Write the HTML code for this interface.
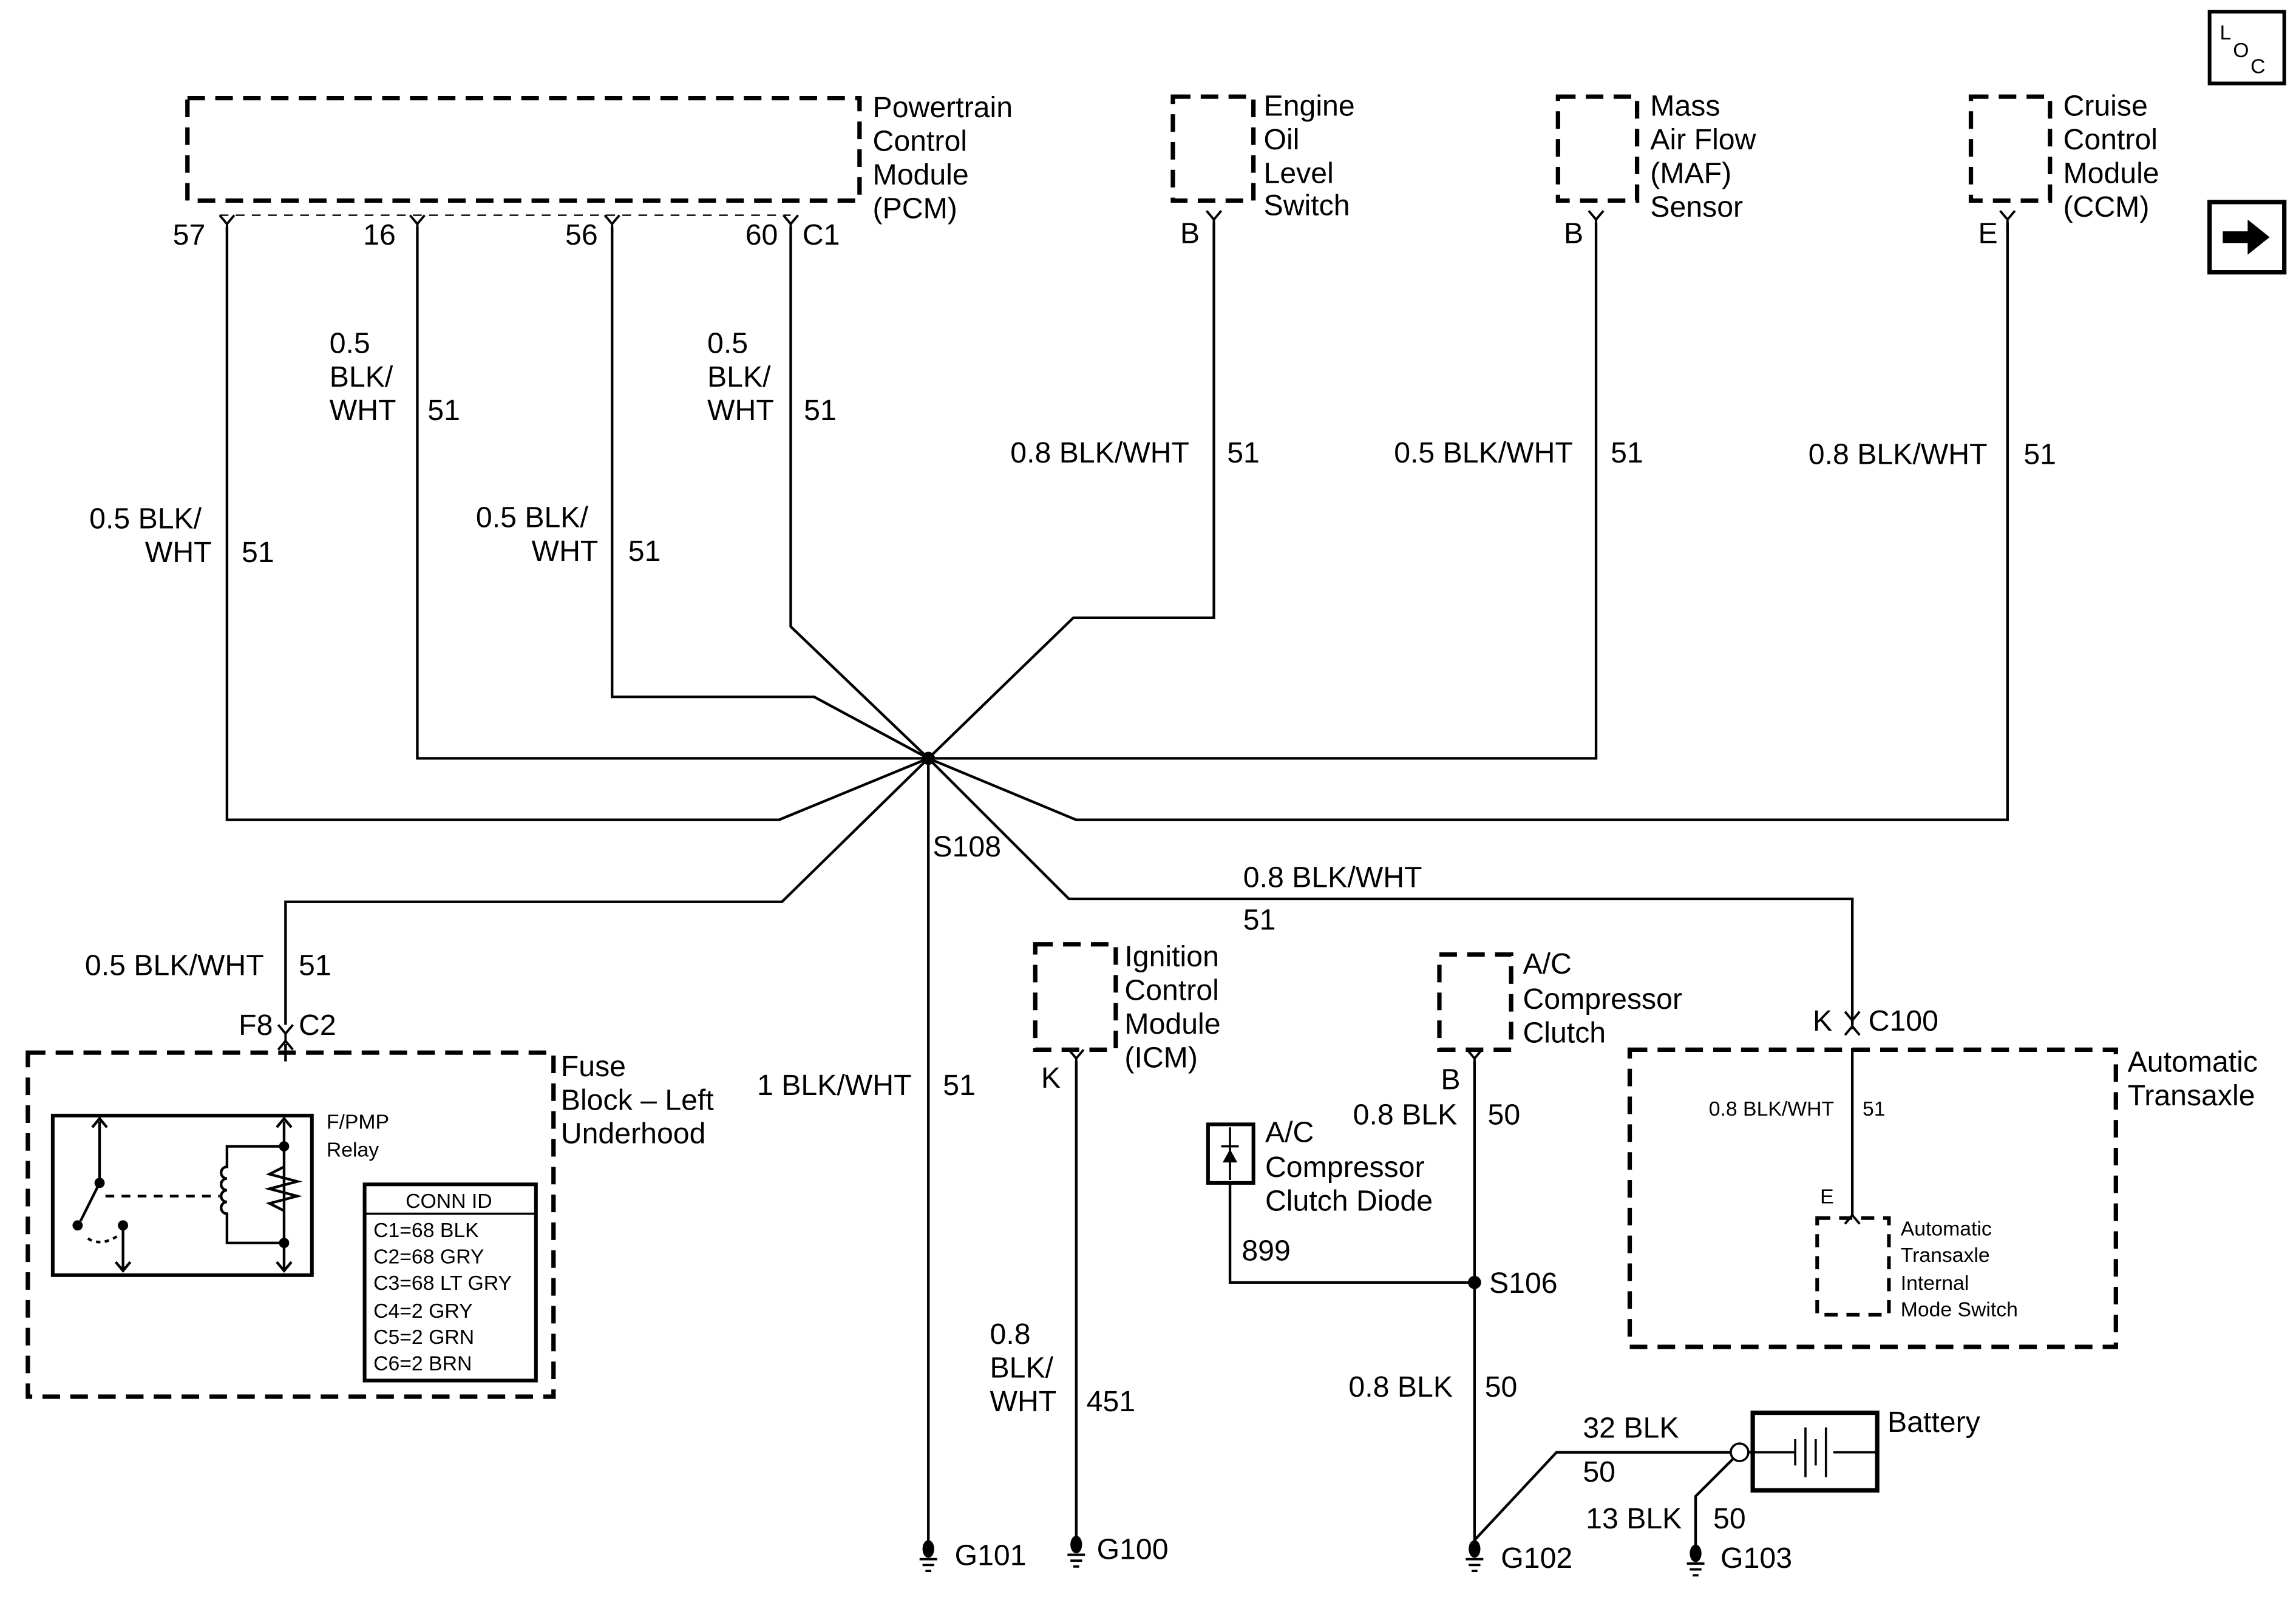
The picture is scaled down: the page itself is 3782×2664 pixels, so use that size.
<!DOCTYPE html>
<html><head><style>
html,body{margin:0;padding:0;background:#fff;}
svg{display:block;}
text{font-family:"Liberation Sans",sans-serif;font-size:20px;fill:#000;}
.s text{font-size:14px;}
</style></head><body>
<svg width="3782" height="2664" viewBox="0 0 1568 1104.5" xmlns="http://www.w3.org/2000/svg">
<defs>
<g id="yc"><path d="M-5,-4 L0,2 L5,-4 M0,2 L0,8" fill="none" stroke="#000" stroke-width="1.6"/></g>
<g id="gnd"><ellipse cx="0" cy="0" rx="4" ry="6" fill="#000"/><path d="M-6,7 H6 M-4,11 H4 M-2,15 H2" stroke="#000" stroke-width="1.6"/></g>
</defs>
<g fill="none" stroke="#000" stroke-width="3" stroke-dasharray="12,7">
<rect x="128" y="67" width="459" height="70"/>
<rect x="801" y="66" width="55" height="71"/>
<rect x="1064" y="66" width="54" height="71"/>
<rect x="1346" y="66" width="54" height="71"/>
<rect x="19" y="719" width="359" height="235"/>
<rect x="707" y="645" width="55" height="72"/>
<rect x="983" y="652" width="49" height="65"/>
<rect x="1113" y="717" width="332" height="203"/>
<rect x="1241" y="832" width="49" height="66" stroke-width="2.5" stroke-dasharray="9,6"/>
</g>
<path d="M150,147 H540" stroke="#000" stroke-width="1" stroke-dasharray="6,5"/>
<g fill="none" stroke="#000" stroke-width="1.8">
<path d="M155,155 V560 H532 L634,518"/>
<path d="M285,155 V518 H634"/>
<path d="M418,155 V476 H556 L634,518"/>
<path d="M540,155 V428 L634,518"/>
<path d="M829,152 V422 H733 L634,518"/>
<path d="M1090,152 V518 H634"/>
<path d="M1371,152 V560 H735 L634,518"/>
<path d="M634,518 L534,616 H195 V700"/>
<path d="M634,518 L730,614 H1265 V700"/>
<path d="M634,518 V1055"/>
<path d="M735,725 V1052"/>
<path d="M1007,725 V1052"/>
<path d="M840,808 V876 H1007"/>
<path d="M1265,716 V830"/>
<path d="M1007,1052 L1063,992 H1183"/>
<path d="M1185,995 L1158,1022 V1058"/>
<path d="M195,713 V725"/>
</g>
<circle cx="634" cy="518" r="4.5"/>
<circle cx="1007" cy="876" r="4.5"/>
<use href="#yc" x="155" y="151"/><use href="#yc" x="285" y="151"/><use href="#yc" x="418" y="151"/><use href="#yc" x="540" y="151"/>
<use href="#yc" x="829" y="148"/><use href="#yc" x="1090" y="148"/><use href="#yc" x="1371" y="148"/>
<use href="#yc" x="735" y="721"/><use href="#yc" x="1007" y="721"/><use href="#yc" x="195" y="704"/>
<path d="M190,717 L195,711 L200,717 M1260,707 L1265,701 L1270,707 M1260,836 L1265,830 L1270,836" fill="none" stroke="#000" stroke-width="1.6"/>
<use href="#yc" x="1265" y="695"/>
<use href="#gnd" x="634" y="1058"/><use href="#gnd" x="735" y="1055"/><use href="#gnd" x="1007" y="1058"/><use href="#gnd" x="1158" y="1061"/>
<rect x="36" y="762" width="177" height="109" fill="none" stroke="#000" stroke-width="2.5"/>
<g fill="none" stroke="#000" stroke-width="1.8">
<path d="M68,766 V808 L55,834 M63,770 L68,764 L73,770"/>
<path d="M84,837 V868 M79,862 L84,868 L89,862"/>
<path d="M60,846 Q70,852 82,843" stroke-dasharray="3,3"/>
<path d="M72,817 H150" stroke-dasharray="6,5"/>
<path d="M194,766 V868 M189,770 L194,764 L199,770 M189,862 L194,868 L199,862"/>
<path d="M194,783 H155 V797 A4,4 0 0 0 155,805 A4,4 0 0 0 155,813 A4,4 0 0 0 155,821 A4,4 0 0 0 155,829 V849 H194"/>
<path d="M194,797 L184,802 L203,807 L184,812 L203,817 L184,822 L194,827"/>
</g>
<circle cx="68" cy="808" r="3.5"/><circle cx="53" cy="837" r="3.5"/><circle cx="84" cy="837" r="3.5"/>
<circle cx="194" cy="783" r="3.5"/><circle cx="194" cy="849" r="3.5"/>
<rect x="249" y="809" width="117" height="134" fill="none" stroke="#000" stroke-width="2.5"/>
<path d="M249,829 H366" stroke="#000" stroke-width="1.5"/>
<g class="s">
<text x="277" y="825">CONN ID</text>
<text x="255" y="845">C1=68 BLK</text>
<text x="255" y="863">C2=68 GRY</text>
<text x="255" y="881">C3=68 LT GRY</text>
<text x="255" y="900">C4=2 GRY</text>
<text x="255" y="918">C5=2 GRN</text>
<text x="255" y="936">C6=2 BRN</text>
<text x="223" y="771">F/PMP</text>
<text x="223" y="790">Relay</text>
<text x="1167" y="762">0.8 BLK/WHT</text><text x="1272" y="762">51</text>
<text x="1243" y="822">E</text>
<text x="1298" y="844">Automatic</text><text x="1298" y="862">Transaxle</text><text x="1298" y="881">Internal</text><text x="1298" y="899">Mode Switch</text>
</g>
<rect x="825" y="768" width="31" height="40" fill="none" stroke="#000" stroke-width="2.5"/>
<path d="M840,770 V806 M834,783 H846" stroke="#000" stroke-width="1.5"/><path d="M835,794 L845,794 L840,785Z"/>
<rect x="1197" y="965" width="85" height="53" fill="none" stroke="#000" stroke-width="3"/>
<circle cx="1188" cy="992" r="6" fill="#fff" stroke="#000" stroke-width="1.5"/>
<path d="M1194,992 H1226 M1252,992 H1282 M1226,983 V1001 M1233,975 V1009 M1240,983 V1001 M1247,975 V1009" stroke="#000" stroke-width="1.5" fill="none"/>
<rect x="1509" y="8" width="51" height="49" fill="none" stroke="#000" stroke-width="2.5"/>
<text x="1516" y="27" style="font-size:14px">L</text><text x="1525" y="39" style="font-size:14px">O</text><text x="1537" y="50" style="font-size:14px">C</text>
<rect x="1509" y="138" width="51" height="48" fill="none" stroke="#000" stroke-width="3"/>
<path d="M1518,158 H1535 V150 L1550,162 L1535,174 V166 H1518Z"/>
<text x="596" y="80">Powertrain</text><text x="596" y="103">Control</text><text x="596" y="126">Module</text><text x="596" y="149">(PCM)</text>
<text x="863" y="79">Engine</text><text x="863" y="102">Oil</text><text x="863" y="125">Level</text><text x="863" y="147">Switch</text>
<text x="1127" y="79">Mass</text><text x="1127" y="102">Air Flow</text><text x="1127" y="125">(MAF)</text><text x="1127" y="148">Sensor</text>
<text x="1409" y="79">Cruise</text><text x="1409" y="102">Control</text><text x="1409" y="125">Module</text><text x="1409" y="148">(CCM)</text>
<text x="118" y="167">57</text><text x="248" y="167">16</text><text x="386" y="167">56</text><text x="509" y="167">60</text><text x="548" y="167">C1</text>
<text x="806" y="166">B</text><text x="1068" y="166">B</text><text x="1351" y="166">E</text>
<text x="225" y="241">0.5</text><text x="225" y="264">BLK/</text><text x="225" y="287">WHT</text><text x="292" y="287">51</text>
<text x="483" y="241">0.5</text><text x="483" y="264">BLK/</text><text x="483" y="287">WHT</text><text x="549" y="287">51</text>
<text x="690" y="316">0.8 BLK/WHT</text><text x="838" y="316">51</text>
<text x="952" y="316">0.5 BLK/WHT</text><text x="1100" y="316">51</text>
<text x="1235" y="317">0.8 BLK/WHT</text><text x="1382" y="317">51</text>
<text x="61" y="361">0.5 BLK/</text><text x="99" y="384">WHT</text><text x="165" y="384">51</text>
<text x="325" y="360">0.5 BLK/</text><text x="363" y="383">WHT</text><text x="429" y="383">51</text>
<text x="637" y="585">S108</text>
<text x="849" y="606">0.8 BLK/WHT</text><text x="849" y="635">51</text>
<text x="58" y="666">0.5 BLK/WHT</text><text x="204" y="666">51</text>
<text x="163" y="707">F8</text><text x="204" y="707">C2</text>
<text x="383" y="735">Fuse</text><text x="383" y="758">Block – Left</text><text x="383" y="781">Underhood</text>
<text x="517" y="748">1 BLK/WHT</text><text x="644" y="748">51</text>
<text x="768" y="660">Ignition</text><text x="768" y="683">Control</text><text x="768" y="706">Module</text><text x="768" y="729">(ICM)</text>
<text x="711" y="743">K</text>
<text x="1040" y="665">A/C</text><text x="1040" y="689">Compressor</text><text x="1040" y="712">Clutch</text>
<text x="984" y="744">B</text>
<text x="1238" y="704">K</text><text x="1276" y="704">C100</text>
<text x="1453" y="732">Automatic</text><text x="1453" y="755">Transaxle</text>
<text x="924" y="768">0.8 BLK</text><text x="1016" y="768">50</text>
<text x="864" y="780">A/C</text><text x="864" y="804">Compressor</text><text x="864" y="827">Clutch Diode</text>
<text x="848" y="861">899</text>
<text x="1017" y="883">S106</text>
<text x="676" y="918">0.8</text><text x="676" y="941">BLK/</text><text x="676" y="964">WHT</text><text x="742" y="964">451</text>
<text x="921" y="954">0.8 BLK</text><text x="1014" y="954">50</text>
<text x="1081" y="982">32 BLK</text><text x="1081" y="1012">50</text>
<text x="1289" y="978">Battery</text>
<text x="1083" y="1044">13 BLK</text><text x="1170" y="1044">50</text>
<text x="652" y="1069">G101</text><text x="749" y="1065">G100</text><text x="1025" y="1071">G102</text><text x="1175" y="1071">G103</text>
</svg>
</body></html>
